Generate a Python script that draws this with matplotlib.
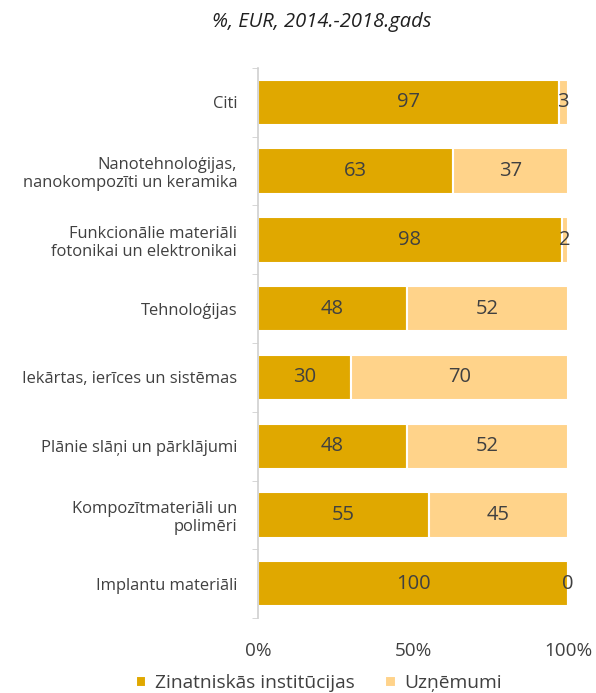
import numpy as np
import matplotlib.pyplot as plt

plt.rcParams['font.family'] = ['Open Sans', 'DejaVu Sans']

categories = ['Citi', 'Nanotehnoloģijas,\nnanokompozīti un keramika',
              'Funkcionālie materiāli\nfotonikai un elektronikai', 'Tehnoloģijas',
              'Iekārtas, ierīces un sistēmas', 'Plānie slāņi un pārklājumi',
              'Kompozītmateriāli un\npolimēri', 'Implantu materiāli']
institutions = [97, 63, 98, 48, 30, 48, 55, 100]
companies = [3, 37, 2, 52, 70, 52, 45, 0]
series_names = ['Zinatniskās institūcijas', 'Uzņēmumi']

c_dark = '#E0A800'
c_light = '#FFD38A'
txt = '#404040'

fig = plt.figure(figsize=(5.96, 6.93), dpi=100)
ax = fig.add_axes([0.433, 0.108, 0.52, 0.794])

y = np.arange(len(categories))[::-1]
b1 = ax.barh(y, institutions, height=0.66, color=c_dark, edgecolor='white', linewidth=1.5,
             label=series_names[0])
b2 = ax.barh(y, companies, left=institutions, height=0.66, color=c_light, edgecolor='white',
             linewidth=1.5, label=series_names[1])

for i in range(len(categories)):
    ax.text(institutions[i] / 2, y[i], str(institutions[i]), ha='center', va='center',
            fontsize=14.5, color=txt)
    ax.text(institutions[i] + companies[i] / 2, y[i], str(companies[i]), ha='center',
            va='center', fontsize=14.5, color=txt)

ax.set_xlim(0, 100)
ax.set_ylim(-0.5, len(categories) - 0.5)
ax.set_yticks(y)
ax.set_yticklabels(categories, fontsize=11.9, color=txt, ha='right')
ax.tick_params(axis='y', length=0, pad=15)
ax.set_yticks(np.arange(-0.5, len(categories), 1), minor=True)
ax.tick_params(axis='y', which='minor', length=4, color='#D0D0D0', direction='out')
ax.set_xticks([0, 50, 100])
ax.set_xticklabels(['0%', '50%', '100%'], fontsize=13.6, color=txt)
ax.tick_params(axis='x', length=0, pad=17)
for s in ['top', 'right', 'bottom']:
    ax.spines[s].set_visible(False)
ax.spines['left'].set_color('#D0D0D0')
ax.spines['left'].set_linewidth(1.2)

fig.text(0.539, 0.968, '%, EUR, 2014.-2018.gads', ha='center', va='center', fontsize=14.5,
         style='italic', color='#202020')

fig.legend(handles=[b1, b2], loc='center', bbox_to_anchor=(0.535, 0.014), ncol=2,
           frameon=False, fontsize=13.8, labelcolor=txt, handlelength=0.55, handleheight=0.55,
           handletextpad=0.45, columnspacing=1.6)

fig.savefig('out.png', dpi=100)
